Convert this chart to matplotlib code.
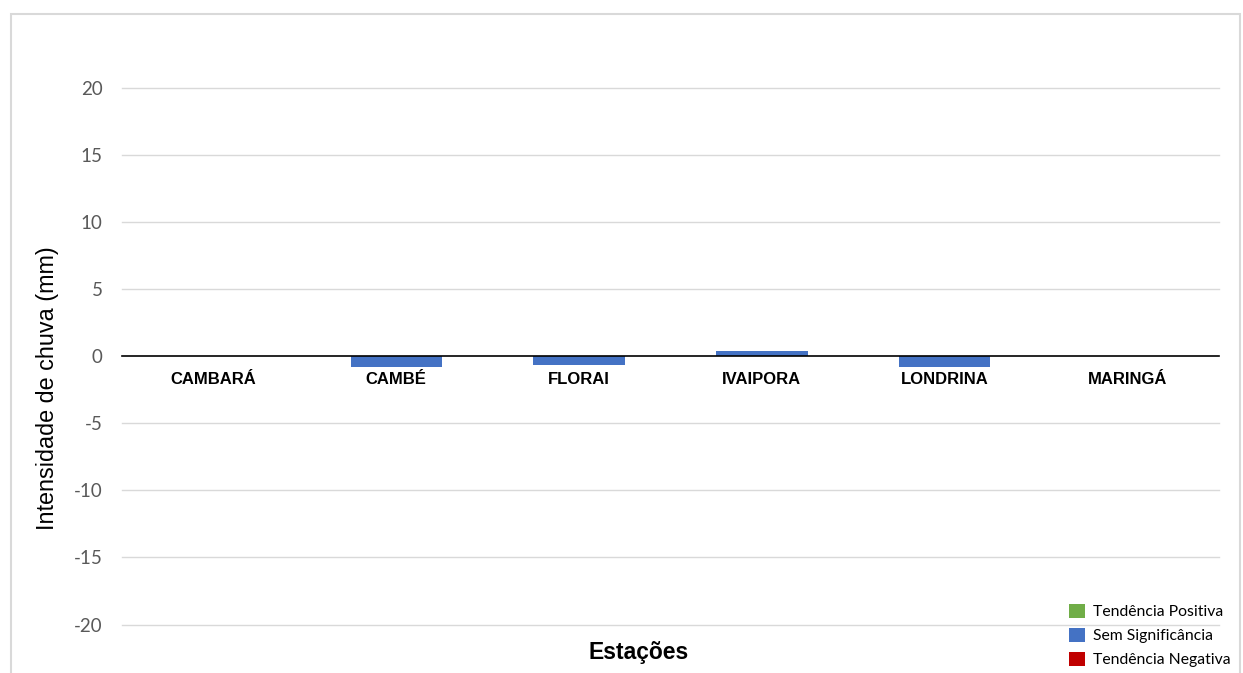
import matplotlib.pyplot as plt
from matplotlib.patches import Patch, Rectangle

# values (mm)
estacoes = ["CAMBARÁ", "CAMBÉ", "FLORAI", "IVAIPORA", "LONDRINA", "MARINGÁ"]
intensidade = [0.0, -0.82, -0.67, 0.42, -0.82, 0.0]
y_ticks = [-20, -15, -10, -5, 0, 5, 10, 15, 20]
legend_labels = ["Tendência Positiva", "Sem Significância", "Tendência Negativa"]
legend_colors = ["#70AD47", "#4472C4", "#C00000"]

W, H = 1243, 673
fig = plt.figure(figsize=(W / 100, H / 100), dpi=100)
fig.patch.set_facecolor("white")

# light outer chart frame
fig.patches.append(Rectangle((11 / W, -0.05), (1240 - 11) / W, 1.05 - 14 / H,
                             transform=fig.transFigure, fill=False,
                             edgecolor="#D9D9D9", linewidth=1.5))

top, bottom = 88, 624.5
ax = fig.add_axes([122 / W, 1 - bottom / H, (1219 - 122) / W, (bottom - top) / H])

x = list(range(len(estacoes)))
ax.bar(x, intensidade, width=0.5, color="#4472C4", zorder=3)

ax.set_xlim(-0.5, len(estacoes) - 0.5)
ax.set_ylim(-20, 20)
ax.set_yticks(y_ticks)
ax.set_yticklabels([str(v) for v in y_ticks], family="Lato", fontsize=13.5, color="#595959")
ax.tick_params(axis="y", length=0, pad=14)

for s in ["top", "right", "left"]:
    ax.spines[s].set_visible(False)
ax.spines["bottom"].set_position(("data", 0))
ax.spines["bottom"].set_color("black")
ax.spines["bottom"].set_linewidth(1.2)
ax.spines["bottom"].set_zorder(4)

ax.set_xticks(x)
ax.set_xticklabels(estacoes, family="Liberation Sans", fontweight="bold", fontsize=12)
ax.tick_params(axis="x", length=0, pad=11.5)

for v in y_ticks:
    if v != 0:
        ax.axhline(v, color="#D9D9D9", linewidth=1, zorder=1, clip_on=False)

ax.set_ylabel("Intensidade de chuva (mm)", family="Liberation Sans", fontsize=16.8)
ax.yaxis.set_label_coords(-0.057, 0.44)
ax.set_xlabel("Estações", family="Liberation Sans", fontweight="bold", fontsize=16.5)
ax.xaxis.set_label_coords(0.471, -0.031)

handles = [Patch(facecolor=c, edgecolor="none") for c in legend_colors]
fig.legend(handles, legend_labels, loc="upper left",
           bbox_to_anchor=(1061 / W, 1 - 596 / H), frameon=False,
           prop={"family": "Lato", "size": 11.3}, handlelength=1.0, handleheight=1.0,
           handletextpad=0.55, labelspacing=0.55, borderpad=0)

fig.savefig("out.png", dpi=100)
